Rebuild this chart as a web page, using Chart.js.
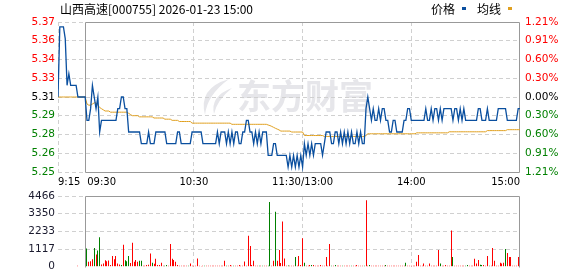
<!DOCTYPE html>
<html><head><meta charset="utf-8">
<script src="https://cdn.jsdelivr.net/npm/chart.js@4.4.1/dist/chart.umd.min.js"></script>
<style>
html,body{margin:0;padding:0;background:#fff;}
#wrap{position:relative;width:578px;height:276px;overflow:hidden;background:#fff;}
canvas{position:absolute;left:0;top:0;}
.t{position:absolute;font-family:"Noto Sans CJK SC","Noto Sans",sans-serif;font-size:12px;line-height:12px;color:#000;white-space:nowrap;}
.mk{position:absolute;width:4px;height:3px;}
</style></head><body>
<div id="wrap">
<canvas id="pc" width="578" height="276"></canvas>
<canvas id="vc" width="578" height="276"></canvas>
<div class="t" style="left:60px;top:3px;">山西高速[000755] 2026-01-23 15:00</div>
<div class="t" style="left:431px;top:3px;">价格</div>
<div class="mk" style="left:462px;top:7px;background:#0a4f9f"></div>
<div class="t" style="left:477px;top:3px;">均线</div>
<div class="mk" style="left:508px;top:7px;background:#e0a020"></div>
</div>
<script>
// ---------- data ----------
const prevClose = 5.31;
const pctRange = 1.21;
const totalMinutes = 255;               // 9:15 .. 15:00 (15 auction minutes + 240 trading minutes)
const priceTickLabels = ["5.25","5.26","5.28","5.29","5.31","5.33","5.34","5.36","5.37"]; // bottom -> top
const pctTickLabels = ["1.21%","0.91%","0.60%","0.30%","0.00%","0.30%","0.60%","0.91%","1.21%"]; // bottom -> top
const volTickLabels = ["0","1117","2233","3350","4466"];
const volMax = 4466;
const timeLabels = ["9:15","09:30","10:30","11:30/13:00","14:00","15:00"];
const timeLabelIndex = [0,15,75,135,195,255];
const gridIndexPrice = [0,75,135,195];
const gridIndexVol = [75,135,195];

const price = [
5.31,5.37,5.37,5.37,5.36,5.32,5.33,5.32,5.32,5.32,5.32,5.31,5.31,5.31,5.31,
5.31,5.29,5.29,5.30,5.32,5.31,5.30,5.31,5.28,5.29,
5.29,5.29,5.29,5.29,5.29,5.29,5.29,5.29,
5.30,5.30,5.31,5.31,5.30,5.30,
5.28,5.28,5.28,5.28,5.28,5.28,5.28,
5.27,5.27,5.27,5.27,
5.28,5.27,5.27,5.27,
5.28,5.28,5.28,5.28,5.28,5.28,
5.27,5.27,5.27,5.27,5.27,5.27,
5.28,5.28,
5.27,5.27,5.27,5.27,5.27,5.27,
5.28,5.28,5.28,5.28,5.28,5.28,
5.27,5.27,5.27,5.27,5.27,5.27,5.27,5.27,
5.28,5.27,5.28,5.28,5.28,5.27,5.28,5.27,5.28,5.27,5.28,5.28,5.27,5.27,5.28,5.28,
5.29,5.29,5.28,5.28,5.27,5.28,5.27,5.28,5.27,5.28,5.28,5.28,
5.26,5.26,5.26,5.27,5.27,5.26,5.26,5.26,5.26,5.26,5.26,5.25,
5.26,5.25,5.26,5.25,5.26,5.25,5.26,5.25,
5.27,5.26,5.27,5.26,5.27,5.26,5.27,5.27,5.27,5.27,5.26,5.27,
5.28,5.28,5.28,
5.27,5.27,
5.28,5.28,5.27,5.28,5.27,5.28,5.27,5.28,5.27,5.28,5.27,5.27,5.28,5.27,5.28,5.27,5.27,
5.30,5.31,5.30,5.29,5.30,5.29,5.29,5.30,5.29,5.30,5.30,5.29,5.29,
5.28,5.28,5.29,5.29,5.28,5.28,5.28,5.28,5.29,5.29,5.30,5.30,
5.29,5.29,5.29,5.29,5.29,5.29,5.29,5.29,
5.30,5.29,5.29,5.30,5.29,5.30,5.30,5.29,5.30,5.29,5.30,5.30,5.30,5.30,5.30,
5.29,5.30,5.30,5.29,5.30,5.29,5.30,5.29,5.29,5.29,5.29,5.29,5.29,5.29,
5.30,5.30,5.29,5.29,5.29,5.30,5.29,5.29,5.29,5.29,5.29,
5.30,5.30,5.30,5.30,5.30,
5.29,5.29,5.29,5.29,5.29,5.29,
5.30,5.30
];

const avgPrice = [
5.31,5.31,5.31,5.31,5.31,5.31,5.31,5.31,5.31,5.31,5.31,5.31,5.31,5.31,5.31,5.31,
5.304,5.303,5.303,5.304,5.305,5.305,5.303,5.301,5.300,5.299,5.298,5.298,5.298,5.297,5.297,5.297,
5.297,5.297,5.297,5.297,5.297,5.297,5.297,5.296,5.295,5.294,5.294,5.294,5.294,5.293,5.293,5.293,
5.293,5.293,5.293,5.293,5.293,5.292,5.292,5.292,5.292,5.292,5.292,5.291,5.291,5.291,5.291,5.290,
5.290,5.290,5.290,5.289,5.289,5.289,5.289,5.289,5.289,5.289,5.2876,5.2876,5.2876,5.2876,5.2876,5.2876,
5.2876,5.2876,5.2876,5.2876,5.2876,5.2876,5.2876,5.2876,5.2876,5.2876,5.2876,5.2876,5.2876,5.2876,5.2876,5.2876,
5.2866,5.2866,5.2866,5.2866,5.2866,5.2866,5.2866,5.2866,5.2866,5.2866,5.2866,5.2866,5.2866,5.2866,5.2866,5.2866,
5.2866,5.2866,5.2866,5.2866,5.2860,5.2855,5.2848,5.2840,5.2832,5.2825,5.2818,5.2808,5.2808,5.2808,5.2808,5.2808,
5.2808,5.2800,5.2800,5.2800,5.2800,5.2800,5.2800,5.2800,5.2770,5.2770,5.2770,5.2770,5.2770,5.2770,5.2770,5.2770,
5.2770,5.2770,5.2770,5.2762,5.2762,5.2762,5.2762,5.2762,5.2762,5.2762,5.2762,5.2762,5.2762,5.2762,5.2762,5.2762,
5.2762,5.2762,5.2762,5.2762,5.2762,5.2762,5.2762,5.2762,5.2762,5.2762,5.2770,5.2785,5.2785,5.2785,5.2785,5.2785,
5.2785,5.2785,5.2785,5.2785,5.2785,5.2785,5.2785,5.2785,5.2785,5.2785,5.2785,5.2785,5.2785,5.2785,5.2785,5.2785,
5.2785,5.2785,5.2785,5.2785,5.2785,5.2785,5.2793,5.2793,5.2793,5.2793,5.2793,5.2793,5.2793,5.2793,5.2793,5.2793,
5.2793,5.2793,5.2793,5.2793,5.2793,5.2793,5.2793,5.2793,5.2802,5.2802,5.2802,5.2802,5.2802,5.2802,5.2802,5.2802,
5.2802,5.2802,5.2802,5.2802,5.2802,5.2802,5.2802,5.2802,5.2802,5.2802,5.2802,5.2802,5.2802,5.2812,5.2812,5.2812,
5.2812,5.2812,5.2812,5.2812,5.2812,5.2812,5.2812,5.2812,5.2820,5.2820,5.2820,5.2820,5.2820,5.2820,5.2820,5.2820
];

const volume = [
0,0,0,0,0,0,0,0,0,0,0,60,0,0,0,0,
1150,310,340,470,1180,770,1030,1860,145,200,410,350,390,100,680,470,
680,200,145,100,1390,410,350,680,230,1510,310,430,310,370,370,60,
60,100,120,830,250,190,500,100,100,250,60,60,100,60,1430,500,
430,310,100,60,60,60,60,60,60,200,60,60,60,520,60,40,
60,60,60,60,60,60,60,60,60,60,60,60,370,60,60,100,
60,60,60,60,100,60,60,330,60,1960,1300,100,370,60,60,60,
60,60,60,60,60,4090,60,370,3470,370,1050,240,2850,520,60,80,
60,60,60,620,60,680,100,1800,250,60,60,100,100,100,60,60,
60,100,60,60,620,60,1430,60,60,100,60,60,60,60,60,60,
60,60,60,60,60,100,60,60,60,60,4200,60,100,60,60,60,
60,60,60,60,60,100,60,60,60,60,60,60,60,60,60,60,
250,60,60,60,60,60,310,740,60,60,200,60,60,200,60,60,
60,60,1050,200,60,60,100,60,60,2290,620,60,60,60,60,60,
60,60,100,60,60,60,500,200,430,130,100,100,60,680,60,60,
1180,370,60,60,250,200,250,1120,870,620,620,60,60,60,620,60
];

// r = up minute (red), g = down minute (green)
const volumeSide = (
"rrrrrrrrrrrrrrrr" +
"grrrgrggrrrrrrrr" +
"rrrgrgggrrrrrggr" +
"rrrrgrrrrrrggrrr" +
"rrrrrrrrgrrrrrrr" +
"rgrrrrrrrrrrrgrr" +
"rgrrrrrrrrrrrrrg" +
"rgrrggrrgrrrrrrg" +
"rrrgrrrrgrrrgrrr" +
"rrrrrrrgrgrrrgrr" +
"rrgrrrrrrgrrgrrr" +
"rrrrrgrrrrrrrrrr" +
"grrrrrrrrrrrrrrr" +
"rrrgrrrrrrgrrrrr" +
"rggrrrrrrggrrrgr" +
"rrrrrrrgrrrrrrrr").split('');

if (price.length !== 256 || avgPrice.length !== 256 || volume.length !== 256 || volumeSide.length !== 256) {
  throw new Error('length mismatch ' + price.length + ' ' + avgPrice.length + ' ' + volume.length + ' ' + volumeSide.length);
}

// ---------- styles ----------
const RED = '#ff0000', GREEN = '#008000';
const BLUE = '#0a4f9f', ORANGE = '#e0a020';
const gridColor = '#d0d0d0';
const frameColor = '#999999';
const tickFont = {family: '"DejaVu Sans", Verdana, sans-serif', size: 10.5};

const framePlugin = {
  id: 'frame',
  beforeDatasetsDraw(chart, args, opts) {
    const {ctx, chartArea: a} = chart;
    const xs = chart.scales.x;
    const x0 = Math.round(xs.getPixelForValue(15)) + 0.5;
    const x1 = Math.round(a.right) - 0.5;
    const y0 = Math.round(a.top) + 0.5;
    const y1 = Math.round(a.bottom) + 0.5;
    ctx.save();
    ctx.strokeStyle = frameColor; ctx.lineWidth = 1; ctx.setLineDash([]);
    ctx.beginPath();
    if (opts.bottom) {
      ctx.rect(x0, y0, x1 - x0, y1 - y0);
    } else {
      ctx.moveTo(x0, y1); ctx.lineTo(x0, y0); ctx.lineTo(x1, y0); ctx.lineTo(x1, y1);
    }
    ctx.stroke();
    ctx.restore();
  }
};

// snap each 1px volume bar onto a whole pixel column so it stays crisp
const snapBarsPlugin = {
  id: 'snapBars',
  beforeDatasetsDraw(chart) {
    chart.getDatasetMeta(0).data.forEach(el => { el.x = Math.floor(el.x) + 0.5; });
  }
};

const watermarkPlugin = {
  id: 'watermark',
  beforeDraw(chart) {
    const ctx = chart.ctx;
    ctx.save();
    ctx.fillStyle = '#e6e6ea';
    ctx.beginPath();
    ctx.moveTo(229, 79);
    ctx.quadraticCurveTo(198, 88, 205, 115);
    ctx.quadraticCurveTo(207, 95, 229, 79);
    ctx.fill();
    ctx.beginPath();
    ctx.moveTo(232, 88);
    ctx.quadraticCurveTo(210, 96, 214, 114);
    ctx.quadraticCurveTo(217, 100, 232, 88);
    ctx.fill();
    ctx.font = 'bold 34px "Noto Sans CJK SC", sans-serif';
    ctx.textAlign = 'left'; ctx.textBaseline = 'alphabetic';
    ctx.fillText('东方财富', 237, 109);
    ctx.restore();
  }
};

const timeAxisPlugin = {
  id: 'timeAxis',
  afterDraw(chart) {
    const {ctx} = chart;
    const xs = chart.scales.x;
    ctx.save();
    ctx.font = '10px "DejaVu Sans", Verdana, sans-serif';
    ctx.fillStyle = '#000';
    ctx.textBaseline = 'alphabetic';
    timeLabels.forEach((t, k) => {
      let x = xs.getPixelForValue(timeLabelIndex[k]);
      let align = 'center';
      if (k === 0) align = 'left';
      else if (k === 1) { align = 'left'; x += 2; }
      else if (k === timeLabels.length - 1) align = 'right';
      ctx.textAlign = align;
      ctx.fillText(t, x, 185);
    });
    ctx.restore();
  }
};

const sideColor = (k) => k < 4 ? GREEN : (k === 4 ? '#000000' : RED);

// ---------- price chart ----------
new Chart(document.getElementById('pc'), {
  type: 'line',
  data: {
    datasets: [
      {data: avgPrice.map((v, i) => ({x: i, y: v})), borderColor: ORANGE, borderWidth: 1, pointRadius: 0, order: 2, yAxisID: 'y'},
      {data: price.map((v, i) => ({x: i, y: v})), borderColor: BLUE, borderWidth: 1.3, pointRadius: 0, order: 1, yAxisID: 'y'}
    ]
  },
  options: {
    responsive: false, animation: false, devicePixelRatio: 1,
    layout: {padding: {top: 22, bottom: 104, left: 0, right: 0}},
    plugins: {legend: {display: false}, tooltip: {enabled: false}, frame: {bottom: true}},
    scales: {
      x: {
        type: 'linear', min: 0, max: totalMinutes,
        afterBuildTicks: (s) => { s.ticks = gridIndexPrice.map(v => ({value: v})); },
        afterFit: (s) => { s.height = 0; },
        ticks: {display: false},
        grid: {color: gridColor, drawTicks: false},
        border: {display: false, dash: [4, 3]}
      },
      y: {
        position: 'left',
        min: prevClose * (1 - pctRange / 100), max: prevClose * (1 + pctRange / 100),
        afterFit: (s) => { s.width = 58; },
        ticks: {count: 9, padding: 3, font: tickFont, color: (c) => sideColor(c.index),
                callback: (v, i) => priceTickLabels[i]},
        grid: {color: gridColor, drawTicks: false},
        border: {display: false, dash: [4, 3]}
      },
      yp: {
        position: 'right', min: -pctRange, max: pctRange,
        afterFit: (s) => { s.width = 58; },
        ticks: {count: 9, padding: 5, font: tickFont, color: (c) => sideColor(c.index),
                callback: (v, i) => pctTickLabels[i]},
        grid: {display: false, drawTicks: false},
        border: {display: false}
      }
    }
  },
  plugins: [watermarkPlugin, framePlugin, timeAxisPlugin]
});

// ---------- volume chart ----------
new Chart(document.getElementById('vc'), {
  type: 'bar',
  data: {
    datasets: [{
      data: volume.map((v, i) => ({x: i, y: v})),
      backgroundColor: volumeSide.map(s => s === 'g' ? GREEN : RED),
      borderWidth: 0, barThickness: 1, inflateAmount: 0
    }]
  },
  options: {
    responsive: false, animation: false, devicePixelRatio: 1,
    layout: {padding: {top: 196, bottom: 6, left: 0, right: 58}},
    plugins: {legend: {display: false}, tooltip: {enabled: false}, frame: {bottom: false}},
    scales: {
      x: {
        type: 'linear', min: 0, max: totalMinutes, offset: false,
        afterBuildTicks: (s) => { s.ticks = gridIndexVol.map(v => ({value: v})); },
        afterFit: (s) => { s.height = 0; },
        ticks: {display: false},
        grid: {color: gridColor, drawTicks: false, offset: false},
        border: {display: false, dash: [4, 3]}
      },
      y: {
        position: 'left', min: 0, max: volMax,
        afterFit: (s) => { s.width = 58; },
        ticks: {count: 5, padding: 3, font: tickFont, color: '#1a1a2e',
                callback: (v, i) => volTickLabels[i]},
        grid: {color: (c) => c.index === 0 ? 'rgba(0,0,0,0)' : gridColor, drawTicks: false},
        border: {display: false, dash: [4, 3]}
      }
    }
  },
  plugins: [framePlugin, snapBarsPlugin]
});
</script>
</body></html>
